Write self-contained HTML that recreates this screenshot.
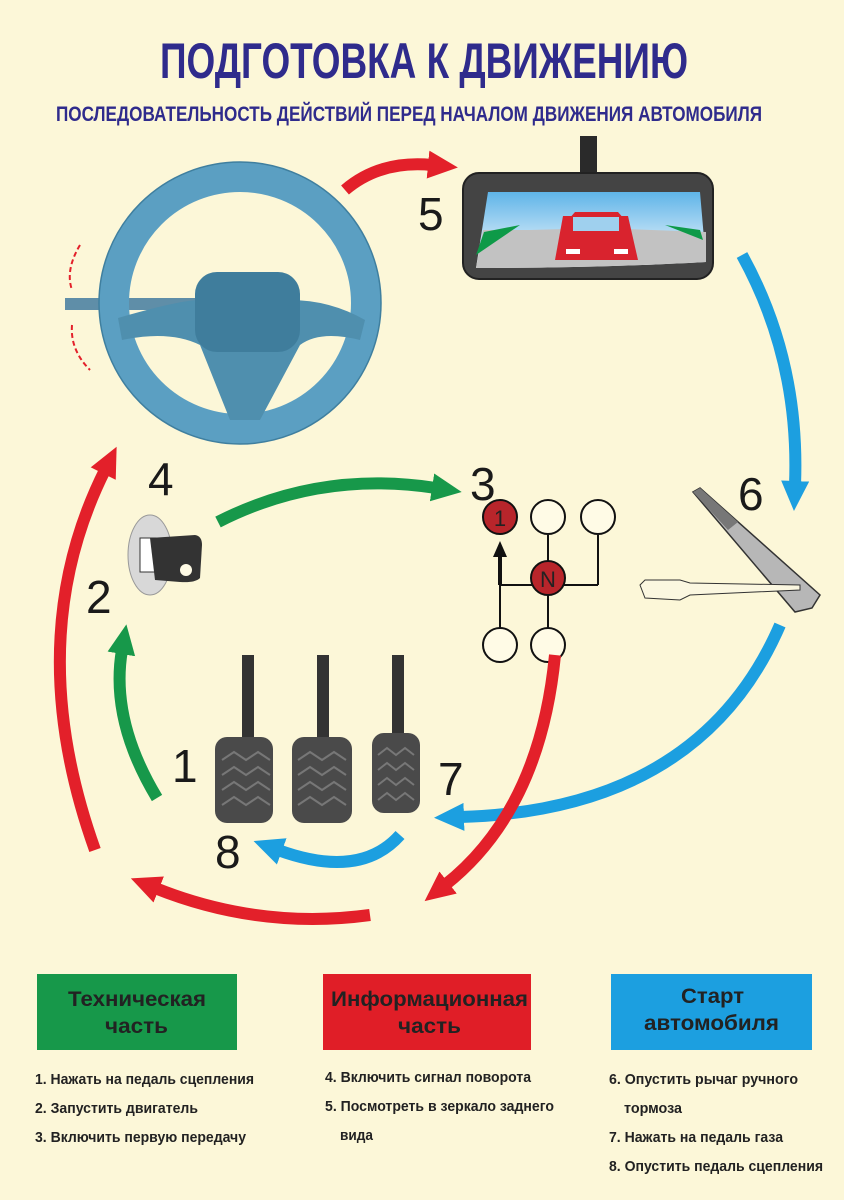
<!DOCTYPE html>
<html><head><meta charset="utf-8"><style>
html,body{margin:0;padding:0;background:#fcf7d8;}
svg{display:block}
.t{font-family:"Liberation Sans",sans-serif;}
.n{font-family:"Liberation Sans",sans-serif;font-size:46px;fill:#1a1a1a}
.l{font-family:"Liberation Sans",sans-serif;font-size:15px;font-weight:bold;fill:#222}
</style></head><body>
<svg width="844" height="1200" viewBox="0 0 844 1200" xmlns="http://www.w3.org/2000/svg">
<defs>
<marker id="mr" markerUnits="userSpaceOnUse" markerWidth="40" markerHeight="40" refX="4" refY="14" orient="auto"><path d="M0,0 L30,14 L0,28 Z" fill="#e3202a"/></marker>
<marker id="mg" markerUnits="userSpaceOnUse" markerWidth="40" markerHeight="40" refX="4" refY="14" orient="auto"><path d="M0,0 L30,14 L0,28 Z" fill="#17984a"/></marker>
<marker id="mb" markerUnits="userSpaceOnUse" markerWidth="40" markerHeight="40" refX="4" refY="14" orient="auto"><path d="M0,0 L30,14 L0,28 Z" fill="#1c9fe0"/></marker>
<marker id="mk" markerUnits="userSpaceOnUse" markerWidth="20" markerHeight="20" refX="2" refY="7" orient="auto"><path d="M0,0 L16,7 L0,14 Z" fill="#111"/></marker>
<linearGradient id="sky" x1="0" y1="0" x2="0" y2="1"><stop offset="0" stop-color="#5fb4e8"/><stop offset="1" stop-color="#ffffff"/></linearGradient>
</defs>
<rect width="844" height="1200" fill="#fcf7d8"/>
<text x="160" y="78" class="t" font-size="50" font-weight="bold" fill="#2f2b8c" textLength="528" lengthAdjust="spacingAndGlyphs">ПОДГОТОВКА К ДВИЖЕНИЮ</text>
<text x="56" y="121" class="t" font-size="21" font-weight="bold" fill="#2f2b8c" textLength="706" lengthAdjust="spacingAndGlyphs">ПОСЛЕДОВАТЕЛЬНОСТЬ ДЕЙСТВИЙ ПЕРЕД НАЧАЛОМ ДВИЖЕНИЯ АВТОМОБИЛЯ</text>

<!-- steering wheel -->
<rect x="65" y="298" width="140" height="12" fill="#5f8ea8"/>
<circle cx="240" cy="303" r="126" fill="none" stroke="#5b9fc2" stroke-width="30"/>
<circle cx="240" cy="303" r="141" fill="none" stroke="#3f7f9f" stroke-width="1.5"/>
<path d="M118,318 Q180,300 200,300 L290,300 Q330,300 365,320 L360,340 Q320,330 300,345 L260,420 L230,420 L200,345 Q170,330 122,340 Z" fill="#4f8fae"/>
<rect x="195" y="272" width="105" height="80" rx="22" fill="#3f7d9c"/>
<path d="M80,245 Q65,270 72,290" fill="none" stroke="#e3202a" stroke-width="2" stroke-dasharray="5,3"/>
<path d="M72,325 Q70,350 90,370" fill="none" stroke="#e3202a" stroke-width="2" stroke-dasharray="5,3"/>

<!-- mirror -->
<rect x="580" y="136" width="17" height="40" fill="#2a2a2a"/>
<rect x="463" y="173" width="250" height="106" rx="16" fill="#444" stroke="#222" stroke-width="2"/>
<path d="M488,192 L700,192 L706,262 Q600,268 476,268 Z" fill="url(#sky)"/>
<path d="M476,268 L483,230 L530,230 L600,228 L706,232 L706,262 Q600,268 476,268 Z" fill="#c2c2c2"/>
<path d="M476,255 L484,232 L520,225 Z" fill="#0e9a48"/>
<path d="M700,230 L665,225 L703,240 Z" fill="#0e9a48"/>
<path d="M555,260 L563,216 L628,216 L638,260 Z" fill="#d9232e"/>
<path d="M568,220 L575,212 L618,212 L625,220 Z" fill="#d9232e"/>
<rect x="573" y="217" width="46" height="14" fill="#9fd0ee"/>
<rect x="566" y="249" width="14" height="5" fill="#fff"/><rect x="614" y="249" width="14" height="5" fill="#fff"/>

<!-- gear shift -->
<g stroke="#111" stroke-width="2" fill="none">
<line x1="500" y1="585" x2="500" y2="630"/>
<line x1="548" y1="535" x2="548" y2="630"/>
<line x1="598" y1="535" x2="598" y2="585"/>
<line x1="500" y1="585" x2="598" y2="585"/>
</g>
<path d="M500,585 L500,555" stroke="#111" stroke-width="4" marker-end="url(#mk)"/>
<circle cx="500" cy="517" r="17" fill="#b8252b" stroke="#111" stroke-width="2"/>
<text x="500" y="526" text-anchor="middle" font-family="Liberation Sans" font-size="22" fill="#222">1</text>
<circle cx="548" cy="517" r="17" fill="#fffbe6" stroke="#111" stroke-width="2"/>
<circle cx="598" cy="517" r="17" fill="#fffbe6" stroke="#111" stroke-width="2"/>
<circle cx="548" cy="578" r="17" fill="#b8252b" stroke="#111" stroke-width="2"/>
<text x="548" y="587" text-anchor="middle" font-family="Liberation Sans" font-size="22" fill="#222">N</text>
<circle cx="500" cy="645" r="17" fill="#fffbe6" stroke="#111" stroke-width="2"/>
<circle cx="548" cy="645" r="17" fill="#fffbe6" stroke="#111" stroke-width="2"/>

<!-- handbrake -->
<path d="M693,492 L700,488 L820,595 L812,608 L795,612 Z" fill="#b7b7b7" stroke="#333" stroke-width="1.5"/>
<path d="M693,492 L700,488 L738,522 L728,530 Z" fill="#777"/>
<path d="M640,585 L645,580 L680,580 L690,583 L800,585 L800,590 L690,595 L680,600 L645,598 Z" fill="#fbf7e0" stroke="#333" stroke-width="1"/>

<!-- key -->
<ellipse cx="150" cy="555" rx="22" ry="40" fill="#d8d8d8" stroke="#999"/>
<rect x="140" y="538" width="16" height="34" fill="#fff" stroke="#333"/>
<path d="M150,538 L195,535 Q202,536 202,545 L200,578 Q195,583 180,582 L155,580 Z" fill="#333"/>
<circle cx="186" cy="570" r="6" fill="#fffbe6"/>

<!-- pedals -->
<rect x="242" y="655" width="12" height="90" fill="#333"/>
<rect x="317" y="655" width="12" height="90" fill="#333"/>
<rect x="392" y="655" width="12" height="85" fill="#333"/>
<rect x="215" y="737" width="58" height="86" rx="12" fill="#4a4a4a"/>
<rect x="292" y="737" width="60" height="86" rx="12" fill="#4a4a4a"/>
<rect x="372" y="733" width="48" height="80" rx="12" fill="#4a4a4a"/>
<g stroke="#777" stroke-width="2" fill="none">
<path d="M222,760 l12,-8 l12,8 l12,-8 l12,8 M222,775 l12,-8 l12,8 l12,-8 l12,8 M222,790 l12,-8 l12,8 l12,-8 l12,8 M222,805 l12,-8 l12,8 l12,-8 l12,8"/>
<path d="M298,760 l12,-8 l12,8 l12,-8 l12,8 M298,775 l12,-8 l12,8 l12,-8 l12,8 M298,790 l12,-8 l12,8 l12,-8 l12,8 M298,805 l12,-8 l12,8 l12,-8 l12,8"/>
<path d="M378,755 l9,-7 l9,7 l9,-7 l9,7 M378,770 l9,-7 l9,7 l9,-7 l9,7 M378,785 l9,-7 l9,7 l9,-7 l9,7 M378,800 l9,-7 l9,7 l9,-7 l9,7"/>
</g>

<!-- arrows -->
<path d="M345,190 Q380,160 432,165" fill="none" stroke="#e3202a" stroke-width="12" marker-end="url(#mr)"/>
<path d="M742,255 Q800,360 795,485" fill="none" stroke="#1c9fe0" stroke-width="12" marker-end="url(#mb)"/>
<path d="M218,522 Q320,470 436,488" fill="none" stroke="#17984a" stroke-width="12" marker-end="url(#mg)"/>
<path d="M157,798 Q110,720 122,650" fill="none" stroke="#17984a" stroke-width="12" marker-end="url(#mg)"/>
<path d="M95,850 Q20,640 105,470" fill="none" stroke="#e3202a" stroke-width="12" marker-end="url(#mr)"/>
<path d="M780,625 Q700,810 460,817" fill="none" stroke="#1c9fe0" stroke-width="12" marker-end="url(#mb)"/>
<path d="M400,835 Q360,880 278,850" fill="none" stroke="#1c9fe0" stroke-width="12" marker-end="url(#mb)"/>
<path d="M555,655 Q540,810 445,885" fill="none" stroke="#e3202a" stroke-width="12" marker-end="url(#mr)"/>
<path d="M370,915 Q260,930 155,888" fill="none" stroke="#e3202a" stroke-width="12" marker-end="url(#mr)"/>

<!-- numbers -->
<text x="418" y="230" class="n">5</text>
<text x="738" y="510" class="n">6</text>
<text x="470" y="500" class="n">3</text>
<text x="148" y="495" class="n">4</text>
<text x="86" y="613" class="n">2</text>
<text x="172" y="782" class="n">1</text>
<text x="438" y="795" class="n">7</text>
<text x="215" y="868" class="n">8</text>

<!-- legend -->
<rect x="37" y="974" width="200" height="76" fill="#17984a"/>
<text x="68" y="1006" class="t" font-size="21" font-weight="bold" fill="#222" textLength="138" lengthAdjust="spacingAndGlyphs">Техническая</text>
<text x="105" y="1033" class="t" font-size="21" font-weight="bold" fill="#222" textLength="63" lengthAdjust="spacingAndGlyphs">часть</text>
<rect x="323" y="974" width="208" height="76" fill="#e01e27"/>
<text x="331" y="1006" class="t" font-size="21" font-weight="bold" fill="#222" textLength="197" lengthAdjust="spacingAndGlyphs">Информационная</text>
<text x="398" y="1033" class="t" font-size="21" font-weight="bold" fill="#222" textLength="63" lengthAdjust="spacingAndGlyphs">часть</text>
<rect x="611" y="974" width="201" height="76" fill="#1c9fe0"/>
<text x="681" y="1003" class="t" font-size="21" font-weight="bold" fill="#222" textLength="63" lengthAdjust="spacingAndGlyphs">Старт</text>
<text x="644" y="1030" class="t" font-size="21" font-weight="bold" fill="#222" textLength="135" lengthAdjust="spacingAndGlyphs">автомобиля</text>

<text x="35" y="1084" class="l" textLength="219" lengthAdjust="spacingAndGlyphs">1. Нажать на педаль сцепления</text>
<text x="35" y="1113" class="l" textLength="163" lengthAdjust="spacingAndGlyphs">2. Запустить двигатель</text>
<text x="35" y="1142" class="l" textLength="211" lengthAdjust="spacingAndGlyphs">3. Включить первую передачу</text>
<text x="325" y="1082" class="l" textLength="206" lengthAdjust="spacingAndGlyphs">4. Включить сигнал поворота</text>
<text x="325" y="1111" class="l" textLength="229" lengthAdjust="spacingAndGlyphs">5. Посмотреть в зеркало заднего</text>
<text x="340" y="1140" class="l" textLength="33" lengthAdjust="spacingAndGlyphs">вида</text>
<text x="609" y="1084" class="l" textLength="189" lengthAdjust="spacingAndGlyphs">6. Опустить рычаг ручного</text>
<text x="624" y="1113" class="l" textLength="58" lengthAdjust="spacingAndGlyphs">тормоза</text>
<text x="609" y="1142" class="l" textLength="174" lengthAdjust="spacingAndGlyphs">7. Нажать на педаль газа</text>
<text x="609" y="1171" class="l" textLength="214" lengthAdjust="spacingAndGlyphs">8. Опустить педаль сцепления</text>
</svg>
</body></html>
